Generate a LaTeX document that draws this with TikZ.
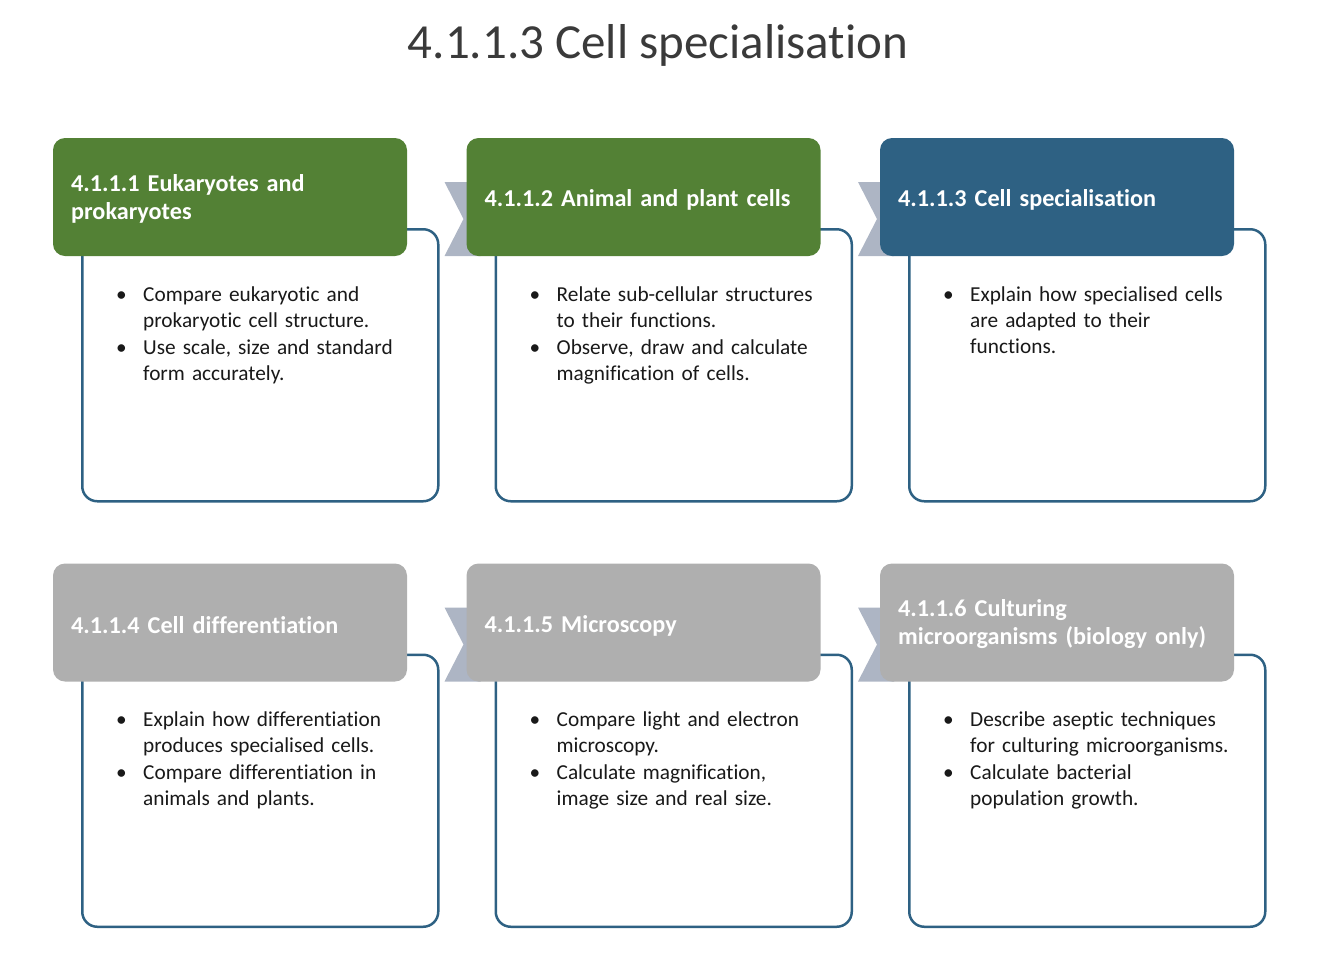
\documentclass[tikz,border=0pt]{standalone}
\usepackage{fontspec}
\setmainfont{Carlito}[RawFeature={-liga;-clig;-dlig;-calt}]
\usetikzlibrary{positioning}
\definecolor{topicgreen}{HTML}{538135}
\definecolor{topicblue}{HTML}{2E6183}
\definecolor{topicgrey}{HTML}{AFAFAF}
\definecolor{chevgrey}{HTML}{ADB5C4}
\definecolor{titlegrey}{HTML}{3A3A3A}
\newcommand{\bul}[1]{\makebox[27pt][l]{\strut\textbullet}\begin{tabular}[t]{@{}l@{}}#1\end{tabular}\par}

\begin{document}
\begin{tikzpicture}[x=1pt, y=1pt,
	card/.style = {draw=topicblue, line width=2.5pt, fill=white, rounded corners=15pt, minimum width=356pt, minimum height=272pt, inner sep=0pt},
	header/.style = {rectangle, rounded corners=12pt, minimum width=354pt, minimum height=118pt, inner sep=0pt, outer sep=0pt, anchor=north west},
	heading/.style = {anchor=west, text width=318pt, inner sep=0pt, align=left, text=white, font=\fontsize{24.2}{28}\selectfont\bfseries},
	points/.style = {anchor=north west, text width=300pt, inner sep=0pt, align=left, text=black!90, font=\fontsize{21.3}{26}\selectfont},
	chevron/.style = {fill=chevgrey}]
	\useasboundingbox (0,0) rectangle (1326,-970);
	\node [anchor=base, text=titlegrey, font=\fontsize{49}{56}\selectfont] (title) at (658,-58) {4.1.1.3 Cell specialisation};
	
	\node [card, anchor=north west] (b1) at (81,-228) {};
	\node [card, right=55pt of b1] (b2) {};
	\node [card, right=55pt of b2] (b3) {};
	\node [card, below=151pt of b1] (b4) {};
	\node [card, right=55pt of b4] (b5) {};
	\node [card, right=55pt of b5] (b6) {};
	
	\fill [chevron] ([shift={(5pt,46pt)}]b1.north east) -- ++(36pt,0) -- ++(20pt,-37pt) -- ++(-20pt,-37pt) -- ++(-36pt,0) -- ++(19pt,37pt) -- cycle;
	\fill [chevron] ([shift={(5pt,46pt)}]b2.north east) -- ++(36pt,0) -- ++(20pt,-37pt) -- ++(-20pt,-37pt) -- ++(-36pt,0) -- ++(19pt,37pt) -- cycle;
	\fill [chevron] ([shift={(5pt,46pt)}]b4.north east) -- ++(36pt,0) -- ++(20pt,-37pt) -- ++(-20pt,-37pt) -- ++(-36pt,0) -- ++(19pt,37pt) -- cycle;
	\fill [chevron] ([shift={(5pt,46pt)}]b5.north east) -- ++(36pt,0) -- ++(20pt,-37pt) -- ++(-20pt,-37pt) -- ++(-36pt,0) -- ++(19pt,37pt) -- cycle;
	
	\node [header, fill=topicgreen] (h1) at ([shift={(-28pt,90pt)}]b1.north west) {};
	\node [header, fill=topicgreen] (h2) at ([shift={(-28pt,90pt)}]b2.north west) {};
	\node [header, fill=topicblue] (h3) at ([shift={(-28pt,90pt)}]b3.north west) {};
	\node [header, fill=topicgrey] (h4) at ([shift={(-28pt,90pt)}]b4.north west) {};
	\node [header, fill=topicgrey] (h5) at ([shift={(-28pt,90pt)}]b5.north west) {};
	\node [header, fill=topicgrey] (h6) at ([shift={(-28pt,90pt)}]b6.north west) {};
	
	\node [heading] (t1) at ([shift={(18pt,-2pt)}]h1.west) {4.1.1.1 Eukaryotes and\\prokaryotes};
	\node [heading] (t2) at ([shift={(18pt,-3pt)}]h2.west) {4.1.1.2 Animal and plant cells};
	\node [heading] (t3) at ([shift={(18pt,-3pt)}]h3.west) {4.1.1.3 Cell specialisation};
	\node [heading] (t4) at ([shift={(18pt,-3pt)}]h4.west) {4.1.1.4 Cell differentiation};
	\node [heading] (t5) at ([shift={(18pt,-3pt)}]h5.west) {4.1.1.5 Microscopy};
	\node [heading] (t6) at ([shift={(18pt,-2pt)}]h6.west) {4.1.1.6 Culturing\\microorganisms (biology only)};
	
	\node [points] (p1) at ([shift={(35pt,-55pt)}]b1.north west) {\bul{Compare eukaryotic and\\prokaryotic cell structure.}\bul{Use scale, size and standard\\form accurately.}};
	\node [points] (p2) at ([shift={(35pt,-55pt)}]b2.north west) {\bul{Relate sub-cellular structures\\to their functions.}\bul{Observe, draw and calculate\\magnification of cells.}};
	\node [points] (p3) at ([shift={(35pt,-55pt)}]b3.north west) {\bul{Explain how specialised cells\\are adapted to their\\functions.}};
	\node [points] (p4) at ([shift={(35pt,-55pt)}]b4.north west) {\bul{Explain how differentiation\\produces specialised cells.}\bul{Compare differentiation in\\animals and plants.}};
	\node [points] (p5) at ([shift={(35pt,-55pt)}]b5.north west) {\bul{Compare light and electron\\microscopy.}\bul{Calculate magnification,\\image size and real size.}};
	\node [points] (p6) at ([shift={(35pt,-55pt)}]b6.north west) {\bul{Describe aseptic techniques\\for culturing microorganisms.}\bul{Calculate bacterial\\population growth.}};
\end{tikzpicture}
\end{document}
